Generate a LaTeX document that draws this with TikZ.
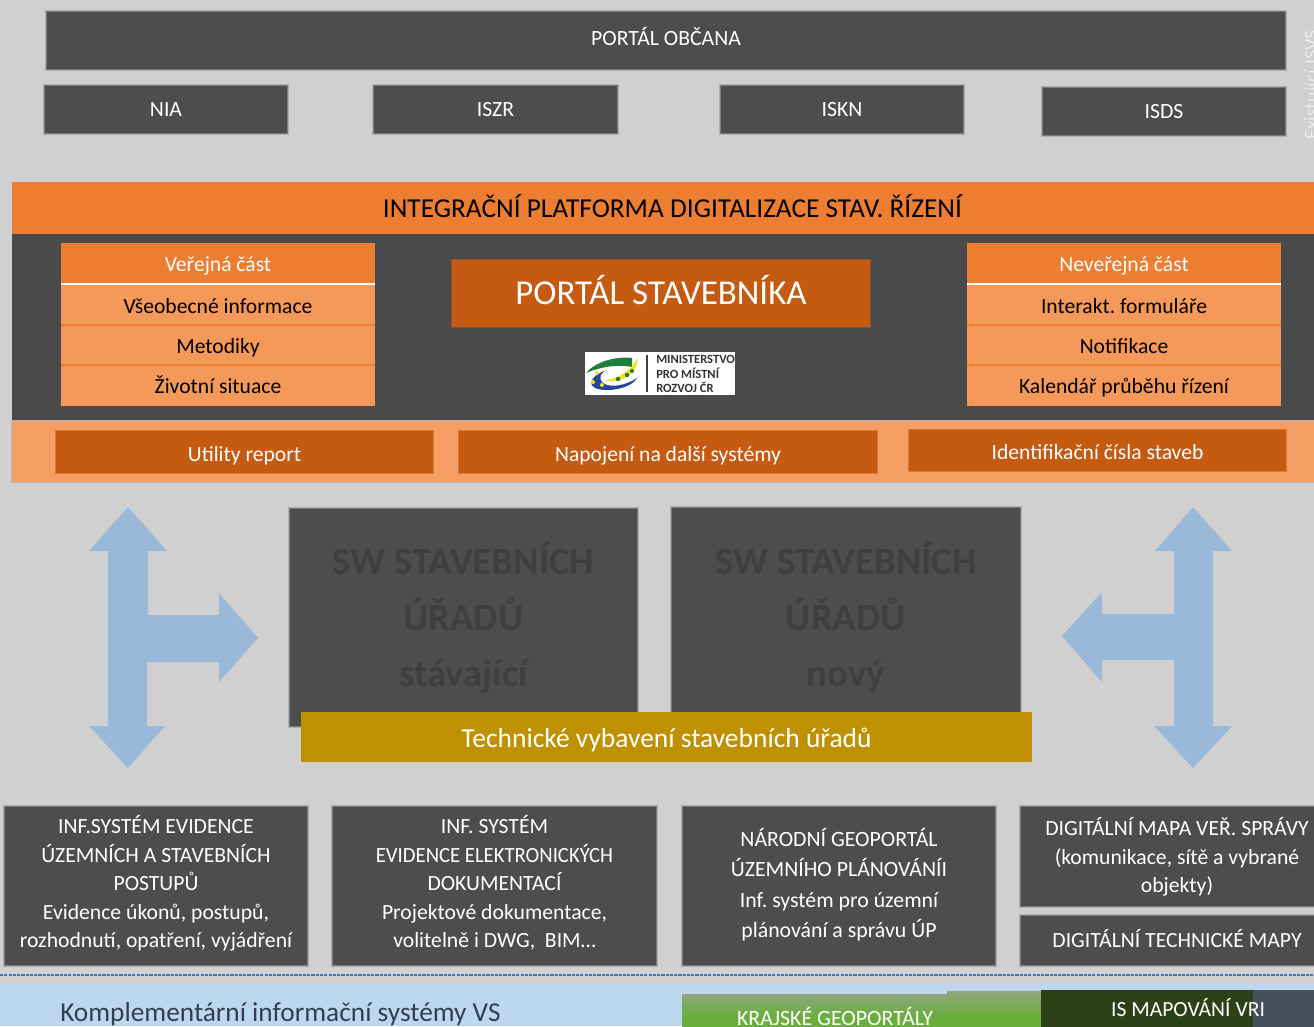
\documentclass[tikz,border=0pt]{standalone}
\usepackage{fontspec}
\setmainfont{Carlito}
\AtBeginDocument{\frenchspacing}
\usetikzlibrary{shapes.geometric}
\definecolor{bgc}{HTML}{D0D0D0}
\definecolor{darkb}{HTML}{4D4D4D}
\definecolor{panelc}{HTML}{4A4A4A}
\definecolor{orangeh}{HTML}{ED7D31}
\definecolor{orangel}{HTML}{F4995A}
\definecolor{oranged}{HTML}{C55A11}
\definecolor{stripc}{HTML}{F49E63}
\definecolor{goldc}{HTML}{BF9000}
\definecolor{arrowc}{HTML}{9AB8D8}
\definecolor{blurtxt}{HTML}{3F3F3F}
\definecolor{stripb}{HTML}{BDD7EE}
\definecolor{txtb}{HTML}{333F50}
\definecolor{greenc}{HTML}{6AAE3C}
\definecolor{greent}{HTML}{8FA67E}
\definecolor{dgreen}{HTML}{2B4218}
\definecolor{slatec}{HTML}{47515D}
\definecolor{lgreen}{HTML}{1E7F3C}
\definecolor{lblue}{HTML}{27469B}
\definecolor{lyellow}{HTML}{F2E21C}
\definecolor{dashc}{HTML}{4472C4}
\newcommand\bx[7]{\node[boxbase,#6,minimum width={(#4-#2)*0.75pt},minimum height={(#5-#3)*0.75pt}] (#1) at ({(#2+#4)/2},{(#3+#5)/2}) {#7};}
\newcommand\up[2]{\raisebox{#1}[\height][\depth]{#2}}
\newcommand\tl[2]{\up{#1}{\begin{tabular}{@{}c@{}}#2\end{tabular}}}
\tikzset{
  boxbase/.style={rectangle,inner sep=0pt,outer sep=0pt,align=center,draw=none},
  rings/.style={preaction={draw=#1!25!bgc,line width=2.8pt},preaction={draw=#1!65!bgc,line width=1.5pt}},
  soft/.style={rings=darkb,fill=darkb,text=white},
  softx/.style={preaction={fill=darkb!45!bgc,transform canvas={yshift=-1.6pt}},rings=darkb,fill=darkb,text=white},
  portc/.style={soft,text height=12.5pt,text depth=2pt,font=\fontsize{16.3}{20}\selectfont},
  bottomt/.style={softx,font=\fontsize{16.25}{21.4}\selectfont},
  cardh/.style={fill=orangeh,text=white,text height=13.25pt,text depth=1.25pt,font=\fontsize{16.2}{20}\selectfont},
  cardr/.style={fill=orangel,text=black,text height=13.25pt,text depth=1.25pt,font=\fontsize{16.2}{20}\selectfont},
  innerb/.style={preaction={draw=oranged!55!stripc,line width=2pt},fill=oranged,text=white,text height=14pt,text depth=0.5pt,font=\fontsize{16.2}{20}\selectfont},
  swb/.style={preaction={draw=darkb!25!bgc,line width=3.2pt},preaction={draw=darkb!65!bgc,line width=1.6pt},fill=darkb,text=blurtxt,font=\fontsize{29}{42}\selectfont\bfseries},
  twoarrow/.style={fill=arrowc,draw=none},
  sepw/.style={draw=white,line width=1.5pt},
  sepo/.style={draw=orangeh,line width=1.2pt},
  logot/.style={inner sep=0pt,anchor=west,text=black!80,font=\fontsize{9.4}{10}\selectfont\bfseries}
}
\begin{document}
\begin{tikzpicture}[x=0.75pt,y=-0.75pt]
\useasboundingbox (0,0) rectangle (1314,1026);
\fill[bgc] (0,0) rectangle (1314,1026);
\begin{scope}
\clip (0,0) rectangle (1314,1026);
\bx{pobc}{47}{12}{1285}{69}{portc,text height=11pt,text depth=3.5pt}{PORTÁL OBČANA}
\bx{nia}{45}{86}{287}{133}{portc}{NIA}
\bx{iszr}{374}{86}{617}{133}{portc}{ISZR}
\bx{iskn}{721}{86}{963}{133}{portc}{ISKN}
\bx{isds}{1043}{88}{1285}{135}{portc}{ISDS}
\node[rotate=90,inner sep=0pt,text=white!92!black,font=\fontsize{15}{18}\selectfont] (exis) at (1313,85) {Existující ISVS};
% platform
\bx{panel}{12}{234}{1314}{421}{fill=panelc}{}
\bx{ihead}{12}{182}{1314}{234}{fill=orangeh,text=black,text height=16.25pt,text depth=2.25pt,font=\fontsize{20.5}{26}\selectfont}{\hspace*{14.25pt}INTEGRAČNÍ PLATFORMA DIGITALIZACE STAV. ŘÍZENÍ}
\bx{strip}{12}{421}{1314}{482}{fill=stripc,preaction={draw=darkb!20!bgc,line width=2pt}}{}
% left card
\bx{l1}{61}{243}{375}{284}{cardh}{Veřejná část}
\bx{l2}{61}{285}{375}{325}{cardr}{Všeobecné informace}
\bx{l3}{61}{325}{375}{365}{cardr}{Metodiky}
\bx{l4}{61}{365}{375}{406}{cardr}{Životní situace}
\draw[sepw] (l1.south west) -- (l1.south east);
\draw[sepo] (l2.south west) -- (l2.south east);
\draw[sepo] (l3.south west) -- (l3.south east);
% right card
\bx{r1}{967}{243}{1281}{284}{cardh}{Neveřejná část}
\bx{r2}{967}{285}{1281}{325}{cardr}{Interakt. formuláře}
\bx{r3}{967}{325}{1281}{365}{cardr}{Notifikace}
\bx{r4}{967}{365}{1281}{406}{cardr}{Kalendář průběhu řízení}
\draw[sepw] (r1.south west) -- (r1.south east);
\draw[sepo] (r2.south west) -- (r2.south east);
\draw[sepo] (r3.south west) -- (r3.south east);
% portal stavebnika
\bx{pstav}{452}{260}{870}{327}{preaction={draw=oranged!50!panelc,line width=2pt},fill=oranged,text=white,text height=20.25pt,text depth=3.25pt,font=\fontsize{26.2}{32}\selectfont}{PORTÁL STAVEBNÍKA}
% logo
\bx{logo}{585}{352}{735}{395}{fill=white}{}
\fill[lgreen] (586,373) .. controls (595,362) and (615,356) .. (632,358) -- (632,367) .. controls (617,364) and (600,367) .. (586,373) -- cycle;
\fill[lyellow] (637,358) .. controls (640,370) and (622,386) .. (605,380) .. controls (618,379) and (632,370) .. (637,358) -- cycle;
\fill[lblue] (607,370) .. controls (588,376) and (584,390) .. (607,390) .. controls (622,390) and (634,384) .. (637,378) .. controls (625,386) and (610,388) .. (603,383) .. controls (598,378) and (600,373) .. (607,370) -- cycle;
\fill[lyellow] (597,373) circle[radius=2] (593,382) circle[radius=2] (602,385) circle[radius=2];
\fill[lgreen] (627,375) circle[radius=2.2] (618,379) circle[radius=2.2] (632,371) circle[radius=2];
\draw[black!75,line width=0.8pt] (647,355) -- (647,392);
\node[logot] (lg1) at (656,359) {MINISTERSTVO};
\node[logot] (lg2) at (656,373) {PRO MÍSTNÍ};
\node[logot] (lg3) at (656,387) {ROZVOJ ČR};
% strip boxes
\bx{ur}{56}{431}{433}{473}{innerb}{Utility report}
\bx{nap}{459}{431}{877}{473}{innerb}{Napojení na další systémy}
\bx{idc}{909}{430}{1286}{471}{innerb}{Identifikační čísla staveb}
% arrows
\fill[twoarrow] (128,507) -- (167,551) -- (148,551) -- (148,615) -- (219,615) -- (219,593) -- (258,638) -- (219,682) -- (219,662) -- (147,662) -- (147,726) -- (165,726) -- (128,768) -- (89,726) -- (108,726) -- (108,551) -- (89,551) -- cycle;
\fill[twoarrow] (1193,507) -- (1232,551) -- (1213,551) -- (1213,726) -- (1232,726) -- (1193,768) -- (1154,726) -- (1174,726) -- (1174,660) -- (1102,660) -- (1102,682) -- (1062,636) -- (1102,592) -- (1102,614) -- (1174,614) -- (1174,551) -- (1155,551) -- cycle;
% SW
\bx{sw1}{290}{509}{637}{726}{swb}{\tl{-1.5pt}{SW STAVEBNÍCH\\ÚŘADŮ\\stávající}}
\bx{sw2}{672}{508}{1020}{726}{swb}{\tl{-1.5pt}{SW STAVEBNÍCH\\ÚŘADŮ\\nový}}
\bx{gold}{301}{712}{1032}{762}{fill=goldc,text=white,text height=17pt,text depth=1.5pt,font=\fontsize{20.6}{25}\selectfont}{Technické vybavení stavebních úřadů}
% bottom row
\bx{b1}{5}{807}{307}{965}{bottomt}{\tl{0.75pt}{INF.SYSTÉM EVIDENCE\\ÚZEMNÍCH A STAVEBNÍCH\\POSTUPŮ\\Evidence úkonů, postupů,\\rozhodnutí, opatření, vyjádření}}
\bx{b2}{333}{807}{656}{965}{bottomt}{\tl{0.75pt}{INF. SYSTÉM\\\scalebox{.955}[1]{EVIDENCE ELEKTRONICKÝCH}\\DOKUMENTACÍ\\Projektové dokumentace,\\volitelně i DWG,~~BIM…}}
\bx{b3}{683}{807}{995}{965}{softx,font=\fontsize{16.35}{22.8}\selectfont}{\tl{0pt}{NÁRODNÍ GEOPORTÁL\\ÚZEMNÍHO PLÁNOVÁNÍI\\Inf. systém pro územní\\plánování a správu ÚP}}
\bx{b4}{1021}{807}{1333}{906}{bottomt}{\tl{-1.5pt}{DIGITÁLNÍ MAPA VEŘ. SPRÁVY\\(komunikace, sítě a vybrané\\objekty)}}
\bx{b5}{1021}{916}{1333}{965}{bottomt,text height=12.5pt,text depth=2pt}{DIGITÁLNÍ TECHNICKÉ MAPY}
\coordinate (dl) at (0,975);
\coordinate (dr) at (1314,975);
\draw[draw=dashc,line width=1pt,dash pattern=on 2.4pt off 0.8pt] (dl) -- (dr);
% lower strip
\fill[stripb] (0,984) rectangle (1314,1026);
\node[inner sep=0pt,anchor=west,text=txtb,text height=16.25pt,text depth=2.25pt,font=\fontsize{20.5}{25}\selectfont] (komp) at (60,1012) {Komplementární informační systémy VS};
\bx{kraj}{682}{994}{988}{1040}{top color=greent,bottom color=greenc,middle color=greenc,text=white,text height=13.25pt,text depth=1.25pt,font=\fontsize{16.4}{20}\selectfont}{KRAJSKÉ GEOPORTÁLY}
\bx{gr2}{947}{991}{1041}{1040}{top color=greent,bottom color=greenc,middle color=greenc}{}
\bx{slate}{1041}{990}{1314}{1030}{fill=slatec}{}
\bx{vri}{1041}{990}{1253}{1030}{fill=dgreen}{}
\node[inner sep=0pt,text=white,text height=12.5pt,text depth=2pt,font=\fontsize{16.2}{20}\selectfont] (ismap) at (1188,1009) {IS MAPOVÁNÍ VRI};
\end{scope}
\end{tikzpicture}
\end{document}
